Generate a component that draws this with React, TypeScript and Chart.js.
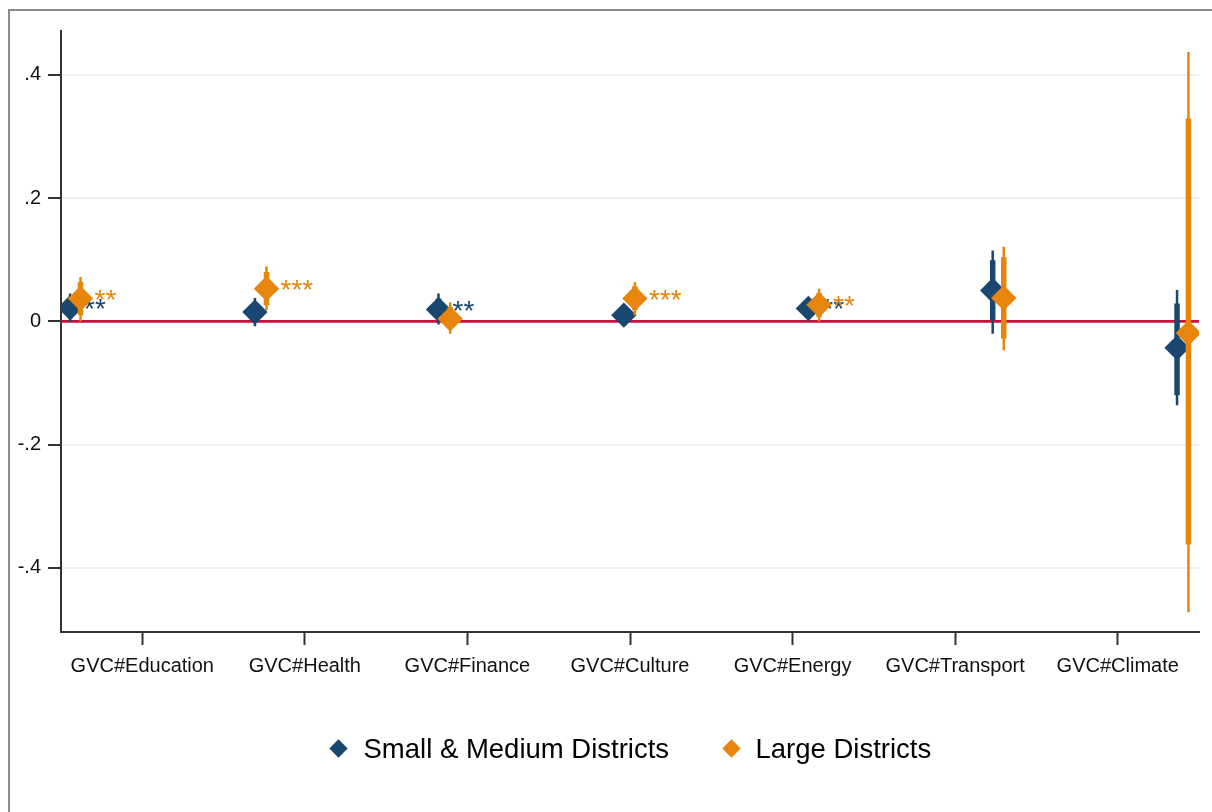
import React, { useEffect, useRef } from 'react';
import { Chart, registerables } from 'chart.js';

Chart.register(...registerables);

// ---------- data ----------
const categories = ['GVC#Education', 'GVC#Health', 'GVC#Finance', 'GVC#Culture', 'GVC#Energy', 'GVC#Transport', 'GVC#Climate'];
const categoryTicks = [1, 2, 3, 4, 5, 6, 7];
const yTicks = [-0.4, -0.2, 0, 0.2, 0.4];

const seriesNames = ['Small & Medium Districts', 'Large Districts'];

// horizontal positions of the coefficient markers (in axis units)
const xSmall = [0.556, 1.693, 2.822, 3.962, 5.097, 6.231, 7.365];
const xLarge = [0.62, 1.764, 2.894, 4.03, 5.163, 6.299, 7.435];

const coefSmall = [0.022, 0.015, 0.019, 0.01, 0.021, 0.05, -0.043];
const lo95Small = [-0.001, -0.008, -0.005, 0.002, 0.0, -0.02, -0.136];
const hi95Small = [0.045, 0.038, 0.045, 0.018, 0.039, 0.115, 0.051];
const lo90Small = [0.007, -0.001, 0.004, 0.005, 0.007, 0.002, -0.12];
const hi90Small = [0.037, 0.031, 0.037, 0.015, 0.031, 0.099, 0.029];
const starsSmall = ['**', '', '**', '', '**', '', ''];

const coefLarge = [0.037, 0.053, 0.004, 0.037, 0.027, 0.038, -0.019];
const lo95Large = [0.0, 0.018, -0.02, 0.01, 0.0, -0.047, -0.472];
const hi95Large = [0.072, 0.089, 0.031, 0.064, 0.053, 0.121, 0.437];
const lo90Large = [0.01, 0.026, -0.012, 0.018, 0.007, -0.028, -0.362];
const hi90Large = [0.064, 0.08, 0.023, 0.057, 0.046, 0.104, 0.329];
const starsLarge = ['**', '***', '', '***', '**', '', ''];

const refLine = [0, 0];
const xRange = [0.5, 7.5];
const yRange = [-0.504, 0.471];

// ---------- styles ----------
const BLUE = '#1a476f';
const ORANGE = '#e8850c';
const RED = '#c8103c';
const FONT = '"Liberation Sans", Arial, sans-serif';

const fmtY = (v: number) => {
  if (Math.abs(v) < 1e-9) return '0';
  const s = Math.abs(v).toFixed(1).replace(/^0/, '');
  return (v < 0 ? '-' : '') + s;
};

const segs = (xs: number[], lo: number[], hi: number[]) =>
  xs.flatMap((x, i) => [
    { x, y: lo[i] },
    { x, y: hi[i] },
    { x, y: null as any },
  ]);

const pts = (xs: number[], ys: number[]) => xs.map((x, i) => ({ x, y: ys[i] }));

const starPlugin = {
  id: 'stars',
  afterDatasetDraw(chart: any, args: any) {
    const ds = chart.data.datasets[args.index] as any;
    if (!ds.stars) return;
    const ctx = chart.ctx;
    const xs = chart.scales.x;
    const ys = chart.scales.y;
    ctx.save();
    ctx.font = `28px ${FONT}`;
    ctx.fillStyle = ds.backgroundColor;
    ctx.textAlign = 'left';
    ctx.textBaseline = 'alphabetic';
    ds.data.forEach((p: any, i: number) => {
      const s = ds.stars[i];
      if (!s) return;
      ctx.fillText(s, xs.getPixelForValue(p.x) + 14, ys.getPixelForValue(p.y) + 10);
    });
    ctx.restore();
  },
};

export default function App() {
  const ref = useRef<HTMLCanvasElement>(null);

  useEffect(() => {
    document.body.style.margin = '0';
    const canvas = ref.current!;
    const chart = new Chart(canvas, {
      type: 'scatter',
      data: {
        datasets: [
          {
            type: 'line',
            label: 'zero',
            data: [
              { x: xRange[0], y: refLine[0] },
              { x: xRange[1], y: refLine[1] },
            ],
            borderColor: RED,
            borderWidth: 2.8,
            pointRadius: 0,
            order: 10,
          } as any,
          {
            type: 'line',
            label: 'ci95s',
            data: segs(xSmall, lo95Small, hi95Small),
            borderColor: BLUE,
            borderWidth: 2.5,
            borderCapStyle: 'butt',
            pointRadius: 0,
            spanGaps: false,
            order: 9,
          } as any,
          {
            type: 'line',
            label: 'ci90s',
            data: segs(xSmall, lo90Small, hi90Small),
            borderColor: BLUE,
            borderWidth: 5.5,
            borderCapStyle: 'butt',
            pointRadius: 0,
            spanGaps: false,
            order: 8,
          } as any,
          {
            label: seriesNames[0],
            data: pts(xSmall, coefSmall),
            backgroundColor: BLUE,
            borderColor: BLUE,
            borderWidth: 0,
            pointStyle: 'rectRot',
            pointRadius: 12.7,
            stars: starsSmall,
            order: 7,
          } as any,
          {
            type: 'line',
            label: 'ci95l',
            data: segs(xLarge, lo95Large, hi95Large),
            borderColor: ORANGE,
            borderWidth: 2.5,
            borderCapStyle: 'butt',
            pointRadius: 0,
            spanGaps: false,
            order: 6,
          } as any,
          {
            type: 'line',
            label: 'ci90l',
            data: segs(xLarge, lo90Large, hi90Large),
            borderColor: ORANGE,
            borderWidth: 5.5,
            borderCapStyle: 'butt',
            pointRadius: 0,
            spanGaps: false,
            order: 5,
          } as any,
          {
            label: seriesNames[1],
            data: pts(xLarge, coefLarge),
            backgroundColor: ORANGE,
            borderColor: ORANGE,
            borderWidth: 0,
            pointStyle: 'rectRot',
            pointRadius: 12.7,
            stars: starsLarge,
            order: 4,
          } as any,
        ],
      },
      options: {
        responsive: false,
        animation: false,
        devicePixelRatio: 1,
        layout: { padding: { top: 31, right: 13, left: 0, bottom: 0 } },
        plugins: {
          legend: { display: false },
          tooltip: { enabled: false },
        },
        scales: {
          x: {
            type: 'linear',
            min: xRange[0],
            max: xRange[1],
            afterBuildTicks: (s: any) => {
              s.ticks = categoryTicks.map((v) => ({ value: v }));
            },
            afterFit: (s: any) => {
              s.height = 180;
            },
            ticks: {
              callback: (v: any) => categories[categoryTicks.indexOf(Number(v))] ?? '',
              font: { family: FONT, size: 20 },
              color: '#111',
              padding: 9,
              maxRotation: 0,
              autoSkip: false,
            },
            grid: {
              drawOnChartArea: false,
              drawTicks: true,
              tickLength: 13,
              tickWidth: 2,
              tickColor: '#333',
            },
            border: { display: true, color: '#333', width: 2 },
          },
          y: {
            type: 'linear',
            min: yRange[0],
            max: yRange[1],
            afterBuildTicks: (s: any) => {
              s.ticks = yTicks.map((v) => ({ value: v }));
            },
            afterFit: (s: any) => {
              s.width = 61;
            },
            ticks: {
              callback: (v: any) => fmtY(Number(v)),
              font: { family: FONT, size: 20 },
              color: '#111',
              padding: 7,
            },
            grid: {
              color: '#e9f1f3',
              lineWidth: 2,
              drawTicks: true,
              tickLength: 13,
              tickWidth: 2,
              tickColor: '#333',
            },
            border: { display: true, color: '#333', width: 2 },
          },
        },
      } as any,
      plugins: [starPlugin as any],
    });
    return () => chart.destroy();
  }, []);

  const legend = [
    { label: seriesNames[0], color: BLUE, cx: 338, tx: 363.5 },
    { label: seriesNames[1], color: ORANGE, cx: 731, tx: 755.5 },
  ];

  return (
    <div style={{ position: 'relative', width: 1212, height: 812, background: '#fff', overflow: 'hidden' }}>
      <canvas ref={ref} width={1212} height={812} style={{ position: 'absolute', left: 0, top: 0 }} />
      <div
        style={{
          position: 'absolute',
          left: 8,
          top: 9,
          width: 1300,
          height: 900,
          borderLeft: '2px solid #8c8c8c',
          borderTop: '2px solid #8c8c8c',
          boxSizing: 'border-box',
          pointerEvents: 'none',
        }}
      />
      {legend.map((l) => (
        <React.Fragment key={l.label}>
          <div
            style={{
              position: 'absolute',
              left: l.cx - 6.5,
              top: 748 - 6.5,
              width: 13,
              height: 13,
              background: l.color,
              transform: 'rotate(45deg)',
            }}
          />
          <span
            style={{
              position: 'absolute',
              left: l.tx,
              top: 736,
              fontFamily: FONT,
              fontSize: 27.5,
              lineHeight: '26px',
              color: '#000',
              whiteSpace: 'nowrap',
            }}
          >
            {l.label}
          </span>
        </React.Fragment>
      ))}
    </div>
  );
}
